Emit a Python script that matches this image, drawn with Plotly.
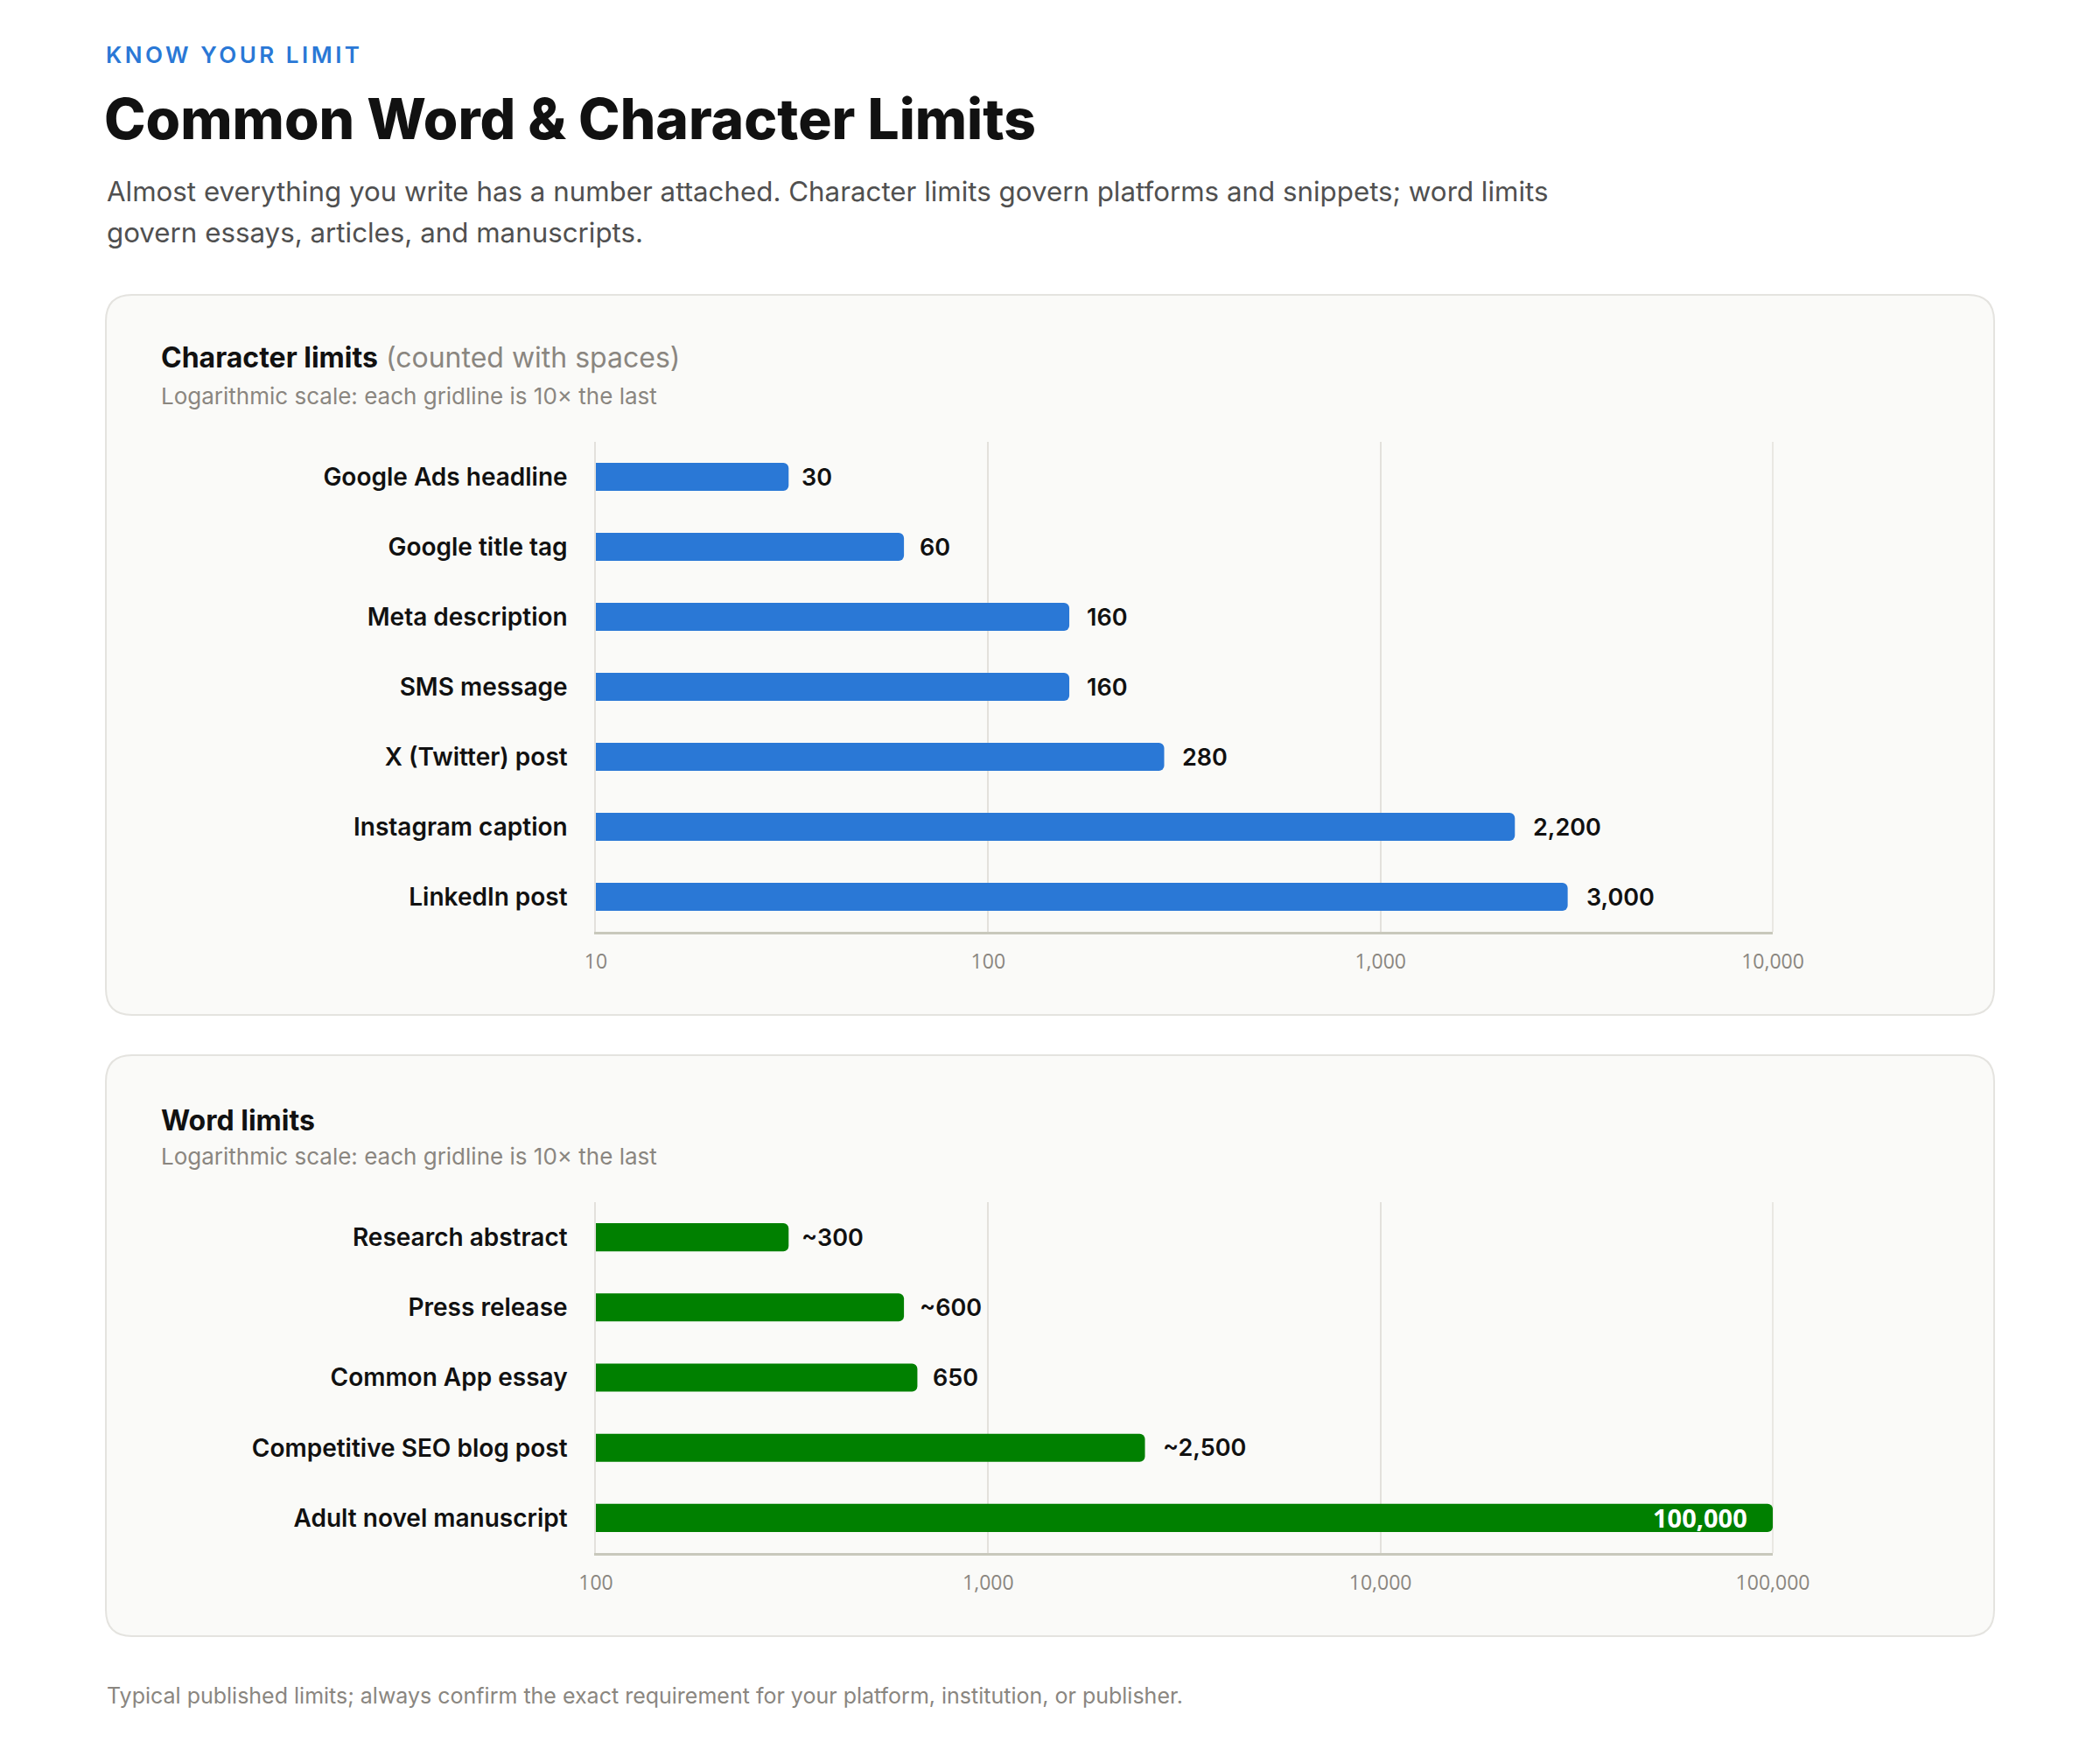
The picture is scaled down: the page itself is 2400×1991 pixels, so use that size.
import math
import plotly.graph_objects as go

# ---------------- data ----------------
char_labels = ["Google Ads headline", "Google title tag", "Meta description", "SMS message",
               "X (Twitter) post", "Instagram caption", "LinkedIn post"]
char_values = [30, 60, 160, 160, 280, 2200, 3000]
char_text = ["30", "60", "160", "160", "280", "2,200", "3,000"]

word_labels = ["Research abstract", "Press release", "Common App essay",
               "Competitive SEO blog post", "Adult novel manuscript"]
word_values = [300, 600, 650, 2500, 100000]
word_text = ["~300", "~600", "650", "~2,500", "100,000"]

char_ticks = [10, 100, 1000, 10000]
char_ticktext = ["10", "100", "1,000", "10,000"]
word_ticks = [100, 1000, 10000, 100000]
word_ticktext = ["100", "1,000", "10,000", "100,000"]

# ---------------- styling ----------------
W, H = 2400, 1991
BLUE = "#2a78d6"
GREEN = "#008000"
INK = "#111111"
GRAY = "#8a8680"
HFONT = "Inter"
PFONT = "Inter"
TFONT = "Open Sans"


def px(x):
    return x / W


def py(y):
    return 1 - y / H


def rrect(x0, y0, x1, y1, r):
    pts = [
        ("M", [(x0 + r, y0)]), ("L", [(x1 - r, y0)]), ("Q", [(x1, y0), (x1, y0 + r)]),
        ("L", [(x1, y1 - r)]), ("Q", [(x1, y1), (x1 - r, y1)]), ("L", [(x0 + r, y1)]),
        ("Q", [(x0, y1), (x0, y1 - r)]), ("L", [(x0, y0 + r)]), ("Q", [(x0, y0), (x0 + r, y0)]),
    ]
    s = ""
    for cmd, ps in pts:
        s += cmd + " " + " ".join(f"{px(a):.6f},{py(b):.6f}" for a, b in ps) + " "
    return s + "Z"


X0, X1 = 681, 2026
P1_TOP, P1_BOT = 505, 1065
P2_TOP, P2_BOT = 1374, 1775

fig = go.Figure()

fig.add_trace(go.Bar(
    x=char_values, y=char_labels, orientation="h", base=1,
    marker=dict(color=BLUE, line=dict(width=0)),
    xaxis="x", yaxis="y", hoverinfo="skip", showlegend=False,
))
fig.add_trace(go.Bar(
    x=word_values, y=word_labels, orientation="h", base=10,
    marker=dict(color=GREEN, line=dict(width=0)),
    xaxis="x2", yaxis="y2", hoverinfo="skip", showlegend=False,
))

axis_common = dict(
    type="log", showgrid=True, gridcolor="#e3e1dc", gridwidth=1.5,
    showline=True, linecolor="#c8c8bc", linewidth=2.5,
    zeroline=False, ticks="", ticklabelstandoff=12, automargin=False,
    tickfont=dict(family=TFONT, size=23, color=GRAY),
    fixedrange=True,
)
yaxis_common = dict(
    autorange="reversed", showgrid=False, zeroline=False, showline=True,
    linecolor="#e3e1dc", linewidth=1.5, ticks="", ticklabelstandoff=25, automargin=False,
    tickfont=dict(family=PFONT, size=28, color=INK, weight=600),
    fixedrange=True,
)

fig.update_layout(
    width=W, height=H, autosize=False,
    margin=dict(l=0, r=0, t=0, b=0, pad=0),
    paper_bgcolor="white", plot_bgcolor="rgba(0,0,0,0)",
    bargap=0.6, barcornerradius=6,
    xaxis=dict(axis_common, domain=[px(X0), px(X1)], range=[1, 4], anchor="y",
               tickvals=char_ticks, ticktext=char_ticktext),
    yaxis=dict(yaxis_common, domain=[py(P1_BOT), py(P1_TOP)], anchor="x"),
    xaxis2=dict(axis_common, domain=[px(X0), px(X1)], range=[2, 5], anchor="y2",
                tickvals=word_ticks, ticktext=word_ticktext),
    yaxis2=dict(yaxis_common, domain=[py(P2_BOT), py(P2_TOP)], anchor="x2"),
)

# panels
fig.add_shape(type="path", xref="paper", yref="paper", layer="below",
              path=rrect(121, 337, 2279, 1160, 30),
              fillcolor="#fafaf8", line=dict(color="#e4e3df", width=2))
fig.add_shape(type="path", xref="paper", yref="paper", layer="below",
              path=rrect(121, 1206, 2279, 1870, 30),
              fillcolor="#fafaf8", line=dict(color="#e4e3df", width=2))
# right-edge gridline of each plot
for xr, yr in (("x", "y"), ("x2", "y2")):
    fig.add_shape(type="line", xref=f"{xr} domain", yref=f"{yr} domain", layer="below",
                  x0=1, x1=1, y0=0, y1=1, line=dict(color="#e3e1dc", width=1.5))

ann = []


def text(x, y, s, size, color, family, weight="normal", xanchor="left"):
    ann.append(dict(x=px(x), y=py(y), xref="paper", yref="paper", text=s, showarrow=False,
                    xanchor=xanchor, yanchor="middle", align="left",
                    font=dict(family=family, size=size, color=color, weight=weight)))


# header
text(119, 62, "<span style='letter-spacing:3.5px'>KNOW YOUR LIMIT</span>", 26, BLUE, HFONT, weight=600)
text(117, 135, "Common Word &amp; Character Limits", 64, INK, HFONT, weight=800)
text(120, 219, "Almost everything you write has a number attached. Character limits govern platforms and snippets; word limits",
     31.3, "#505050", HFONT)
text(120, 266, "govern essays, articles, and manuscripts.", 31.3, "#505050", HFONT)

# panel titles
text(182, 409, f"<b>Character limits</b> <span style='color:{GRAY}'>(counted with spaces)</span>", 32, INK, PFONT)
text(182, 452, "Logarithmic scale: each gridline is 10× the last", 26, GRAY, PFONT)
text(182, 1280, "<b>Word limits</b>", 32, INK, PFONT)
text(182, 1321, "Logarithmic scale: each gridline is 10× the last", 26, GRAY, PFONT)

# footer
text(120, 1938, "Typical published limits; always confirm the exact requirement for your platform, institution, or publisher.",
     25, GRAY, PFONT)

# value labels (log axes: annotation x given in log10 units)
for lab, v, t in zip(char_labels, char_values, char_text):
    ann.append(dict(x=math.log10(v), y=lab, xref="x", yref="y", text=t, showarrow=False,
                    xanchor="left", yanchor="middle", xshift=19,
                    font=dict(family=PFONT, size=27, color=INK, weight=600)))
wmax = max(word_values)
for lab, v, t in zip(word_labels, word_values, word_text):
    inside = v == wmax
    ann.append(dict(x=math.log10(v), y=lab, xref="x2", yref="y2", text=t, showarrow=False,
                    xanchor="right" if inside else "left", yanchor="middle",
                    xshift=-27 if inside else 19,
                    font=dict(family=TFONT if inside else PFONT, size=29 if inside else 27,
                              weight=700 if inside else 600,
                              color="white" if inside else INK)))

fig.update_layout(annotations=ann)
fig.write_html("out.html")
